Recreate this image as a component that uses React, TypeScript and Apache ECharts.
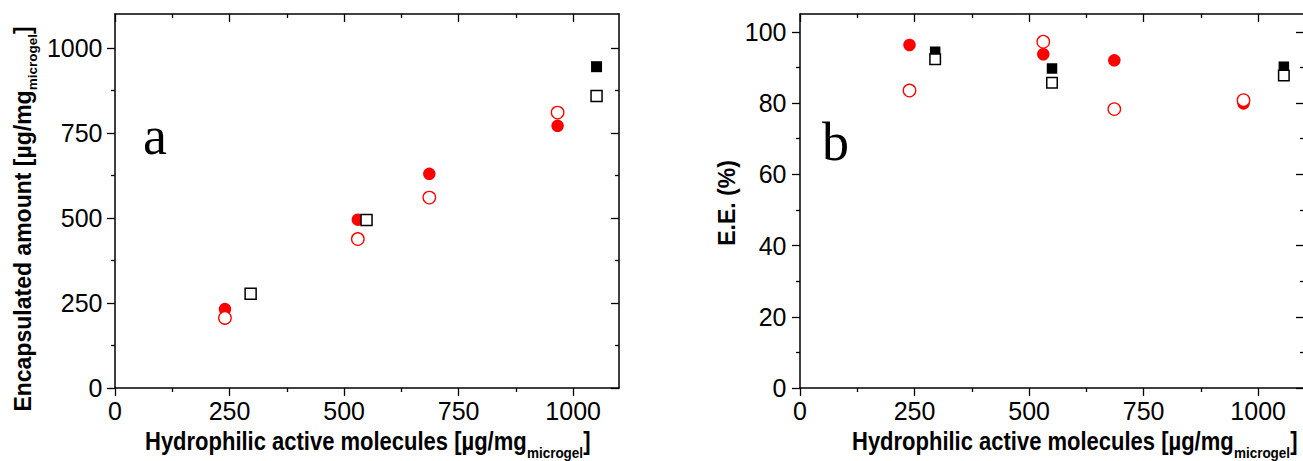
import React, { useEffect, useRef } from 'react';
import * as echarts from 'echarts';

// tick values
const X_TICKS = [0, 250, 500, 750, 1000];
const X_MINOR = [125, 375, 625, 875];
const A_Y_TICKS = [0, 250, 500, 750, 1000];
const A_Y_MINOR = [125, 375, 625, 875];
const B_Y_TICKS = [0, 20, 40, 60, 80, 100];
const B_Y_MINOR = [10, 30, 50, 70, 90];

// chart a: encapsulated amount
const aRedX = [240, 530, 686, 966];
const aRedFilled = [232, 495, 630, 771];
const aRedOpen = [206, 438, 560, 810];
const aSqOpenX = [296, 549, 1051];
const aSqOpen = [277, 494, 859];
const aSqFilledX = [1051];
const aSqFilled = [945];

// chart b: E.E. (%)
const bRedX = [239, 531, 686, 968];
const bRedFilled = [96.3, 93.7, 92.0, 79.9];
const bRedOpen = [83.5, 97.2, 78.3, 80.8];
const bSqX = [295, 550, 1056];
const bSqFilled = [94.4, 89.7, 90.2];
const bSqOpen = [92.3, 85.7, 87.7];

const AX_LINE = { color: '#000', width: 1.5 };
const TICK_LINE = { color: '#000', width: 1.3 };
const LABEL_FONT = 'Liberation Sans';

function axesFor(
  dim: 'x' | 'y',
  grid: number,
  max: number,
  interval: number,
  majors: number[],
  minors: number[],
  labelMargin: number
) {
  const near = dim === 'x' ? 'bottom' : 'left';
  const far = dim === 'x' ? 'top' : 'right';
  const base = {
    type: 'value',
    gridIndex: grid,
    min: 0,
    max,
    splitLine: { show: false },
    axisPointer: { show: false },
  };
  return [
    {
      ...base,
      position: near,
      interval,
      axisLine: { show: true, onZero: false, lineStyle: AX_LINE },
      axisTick: { show: true, length: 8, inside: false, lineStyle: TICK_LINE, customValues: majors },
      axisLabel: {
        show: true,
        customValues: majors,
        fontSize: 25,
        fontFamily: LABEL_FONT,
        color: '#000',
        margin: labelMargin,
        formatter: (v: number) => (majors.indexOf(v) >= 0 ? String(v) : ''),
      },
    },
    {
      ...base,
      position: near,
      interval: interval / 2,
      axisLine: { show: false, onZero: false },
      axisTick: { show: true, length: 4, inside: false, lineStyle: TICK_LINE, customValues: minors },
      axisLabel: { show: false },
    },
    {
      ...base,
      position: far,
      interval,
      axisLine: { show: true, onZero: false, lineStyle: AX_LINE },
      axisTick: { show: true, length: 8, inside: true, lineStyle: TICK_LINE, customValues: majors },
      axisLabel: { show: false },
    },
    {
      ...base,
      position: far,
      interval: interval / 2,
      axisLine: { show: false, onZero: false },
      axisTick: { show: true, length: 4, inside: true, lineStyle: TICK_LINE, customValues: minors },
      axisLabel: { show: false },
    },
  ];
}

function pts(xs: number[], ys: number[]) {
  return xs.map((x, i) => [x, ys[i]]);
}

const RED = '#ff0000';

function scatter(
  xIdx: number,
  yIdx: number,
  data: number[][],
  symbol: string,
  size: number,
  filled: boolean,
  color: string
) {
  return {
    type: 'scatter',
    xAxisIndex: xIdx,
    yAxisIndex: yIdx,
    data,
    symbol,
    symbolSize: size,
    itemStyle: filled
      ? { color, borderWidth: 0, opacity: 1 }
      : { color: '#fff', borderColor: color, borderWidth: symbol === 'rect' ? 1.5 : 1.3, opacity: 1 },
    emphasis: { disabled: true },
  };
}

const TITLE_RICH = {
  m: { fontSize: 22, fontWeight: 'bold', fontFamily: LABEL_FONT, fill: '#000', color: '#000', lineHeight: 34, verticalAlign: 'middle' },
  s: { fontSize: 13.5, fontWeight: 'bold', fontFamily: LABEL_FONT, fill: '#000', color: '#000', lineHeight: 14, verticalAlign: 'bottom' },
};
const XTITLE = '{m|Hydrophilic active molecules [µg/mg}{s|microgel}{m|]}';
const YTITLE_A = '{m|Encapsulated amount [µg/mg}{s|microgel}{m|]}';

export default function App() {
  const ref = useRef<HTMLDivElement>(null);
  useEffect(() => {
    if (!ref.current) return;
    const chart = echarts.init(ref.current, undefined, { renderer: 'svg' });
    const option: any = {
      animation: false,
      backgroundColor: '#fff',
      grid: [
        { left: 115, top: 14, width: 504, height: 374, containLabel: false, outerBoundsMode: 'none' },
        { left: 800, top: 14, width: 504, height: 374, containLabel: false, outerBoundsMode: 'none' },
      ],
      xAxis: [
        ...axesFor('x', 0, 1100, 250, X_TICKS, X_MINOR, 10),
        ...axesFor('x', 1, 1100, 250, X_TICKS, X_MINOR, 10),
      ],
      yAxis: [
        ...axesFor('y', 0, 1100, 250, A_Y_TICKS, A_Y_MINOR, 12.5),
        ...axesFor('y', 1, 105, 20, B_Y_TICKS, B_Y_MINOR, 13.5),
      ],
      series: [
        scatter(0, 0, pts(aSqFilledX, aSqFilled), 'rect', 11, true, '#000'),
        scatter(0, 0, pts(aRedX, aRedFilled), 'circle', 12.5, true, RED),
        scatter(0, 0, pts(aRedX, aRedOpen), 'circle', 12.5, false, RED),
        scatter(0, 0, pts(aSqOpenX, aSqOpen), 'rect', 11, false, '#000'),
        scatter(4, 4, pts(bSqX, bSqFilled), 'rect', 10.5, true, '#000'),
        scatter(4, 4, pts(bRedX, bRedFilled), 'circle', 12.5, true, RED),
        scatter(4, 4, pts(bRedX, bRedOpen), 'circle', 12.5, false, RED),
        scatter(4, 4, pts(bSqX, bSqOpen), 'rect', 10.5, false, '#000'),
      ],
      graphic: {
        elements: [
          {
            type: 'text', x: 143, y: 136, silent: true,
            style: { text: 'a', fontFamily: 'Liberation Serif', fontSize: 54, fill: '#000', align: 'left', verticalAlign: 'middle', textAlign: 'left', textVerticalAlign: 'middle' },
          },
          {
            type: 'text', x: 822, y: 142, silent: true,
            style: { text: 'b', fontFamily: 'Liberation Serif', fontSize: 54, fill: '#000', align: 'left', verticalAlign: 'middle', textAlign: 'left', textVerticalAlign: 'middle' },
          },
          {
            type: 'text', x: 145, y: 422, scaleY: 1.14, silent: true,
            style: { text: XTITLE, rich: TITLE_RICH, fill: '#000', align: 'left', verticalAlign: 'top', textAlign: 'left', textVerticalAlign: 'top' },
          },
          {
            type: 'text', x: 852, y: 422, scaleY: 1.14, silent: true,
            style: { text: XTITLE, rich: TITLE_RICH, fill: '#000', align: 'left', verticalAlign: 'top', textAlign: 'left', textVerticalAlign: 'top' },
          },
          {
            type: 'text', x: 22.5, y: 219, rotation: Math.PI / 2, silent: true,
            style: { text: YTITLE_A, rich: { ...TITLE_RICH, m: { ...TITLE_RICH.m, fontSize: 23 } }, fill: '#000', align: 'center', verticalAlign: 'middle', textAlign: 'center', textVerticalAlign: 'middle' },
          },
          {
            type: 'text', x: 727, y: 203, rotation: Math.PI / 2, silent: true,
            style: { text: 'E.E. (%)', fontFamily: LABEL_FONT, fontWeight: 'bold', fontSize: 23, fill: '#000', align: 'center', verticalAlign: 'middle', textAlign: 'center', textVerticalAlign: 'middle' },
          },
        ],
      },
    };
    chart.setOption(option);
    return () => chart.dispose();
  }, []);
  return (
    <div
      ref={ref}
      style={{ position: 'absolute', left: 0, top: 0, width: 1303, height: 461, background: '#fff' }}
    />
  );
}
